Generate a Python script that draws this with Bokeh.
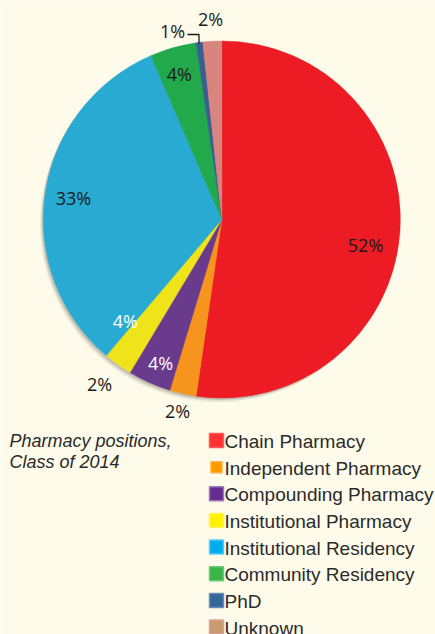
import math
from bokeh.plotting import figure
from bokeh.models import Range1d, ColumnDataSource
from bokeh.core.properties import value
from bokeh.embed import file_html
from bokeh.resources import INLINE

# ---- data ----
categories = ["Chain Pharmacy", "Independent Pharmacy", "Compounding Pharmacy",
              "Institutional Pharmacy", "Institutional Residency", "Community Residency",
              "PhD", "Unknown"]
shares = [52.3, 2.4, 3.9, 2.6, 32.3, 4.2, 0.6, 1.7]
slice_colors = ["#ed1c24", "#f7941d", "#6a3a8c", "#efe41a", "#29aad2", "#22a94b", "#3a5f8f", "#d8857f"]
legend_colors = ["#ff3232", "#ff9900", "#662d91", "#fff200", "#00aeef", "#39b54a", "#336699", "#c89a6c"]
legend_edges = ["#ff5a5a", "#ffb040", "#9a7ab5", "#fff35a", "#5ccaf5", "#6cc87a", "#6a8cb5", "#dba3a0"]

# pie labels: text, angle (deg clockwise from top), radius (px), colour
label_texts = ["52%", "2%", "4%", "2%", "33%", "4%", "4%", "1%", "2%"]
label_angles = [99.9, 193.0, 203.2, 216.7, 278.4, 223.4, 343.8, 345.3, 356.8]
label_radii = [145.9, 197.0, 155.6, 204.6, 149.9, 140.3, 152.0, 194.4, 201.3]
label_colors = ["#1a1a1a", "#1a1a1a", "#ffffff", "#1a1a1a", "#1a1a1a", "#ffffff", "#1a1a1a", "#1a1a1a", "#1a1a1a"]

caption = ["Pharmacy positions,", "Class of 2014"]

BG = "#fefbea"
W, H = 435, 634

def px(X, Y):
    """image pixel -> data coords"""
    return X, H - Y

p = figure(width=W, height=H, output_backend="svg", toolbar_location=None,
           x_range=Range1d(0, W), y_range=Range1d(0, H), min_border=0)
p.axis.visible = False
p.grid.visible = False
p.outline_line_color = None
p.background_fill_color = BG
p.border_fill_color = BG

cx, cy = px(221.3, 219)
R = 178.5

# soft shadow
for dx, dy, a in [(-3.5, -4.5, 0.05), (-2.5, -3.2, 0.08), (-1.5, -2.0, 0.12)]:
    p.circle(x=[cx + dx], y=[cy + dy], radius=R, fill_color="#000000", fill_alpha=a, line_color=None)

total = sum(shares)
starts, ends = [], []
cum = 0.0
for s in shares:
    starts.append(math.pi / 2 - cum / total * 2 * math.pi)
    cum += s
    ends.append(math.pi / 2 - cum / total * 2 * math.pi)

src = ColumnDataSource(dict(start=starts, end=ends, color=slice_colors, cat=categories))
p.wedge(x=cx, y=cy, radius=R, start_angle="start", end_angle="end", direction="clock",
        fill_color="color", line_color="color", line_width=0.5, source=src)

# labels
lx = [cx + r * math.sin(math.radians(a)) for a, r in zip(label_angles, label_radii)]
ly = [cy + r * math.cos(math.radians(a)) for a, r in zip(label_angles, label_radii)]
p.text(x=lx, y=ly, text=label_texts, text_color=label_colors,
       text_font=value("Open Sans"), text_font_size="18px",
       text_align="center", text_baseline="middle")

# leader line for the 1% label
lxs, lys = zip(*[px(187, 34), px(198.5, 34), px(198.5, 43)])
p.line(x=list(lxs), y=list(lys), line_color="#1a1a1a", line_width=1.3)

# caption
cap_x, cap_y0 = px(9, 440)
p.text(x=[cap_x, cap_x], y=[cap_y0, cap_y0 - 21], text=caption, text_color="#2a2a2a",
       text_font=value("Liberation Sans"), text_font_style="italic", text_font_size="18px",
       text_align="left", text_baseline="middle")

# legend
step = 26.65
tx, ty0 = px(224, 441)
sx, sy0 = px(216, 440)
n = len(categories)
sq_sizes = [14, 11, 14, 14, 14, 14, 14, 14]
p.rect(x=[sx] * n, y=[sy0 - i * step for i in range(n)], width=sq_sizes, height=sq_sizes,
       fill_color=legend_colors, line_color=legend_edges, line_width=1.5)
p.text(x=[tx] * n, y=[ty0 - i * step for i in range(n)], text=categories, text_color="#2b2b2b",
       text_font=value("Liberation Sans"), text_font_size="19px",
       text_align="left", text_baseline="middle")

html = file_html(p, INLINE)
html = html.replace("<body>", '<body style="background-color:%s;">' % BG, 1)
open("out.html", "w").write(html)
